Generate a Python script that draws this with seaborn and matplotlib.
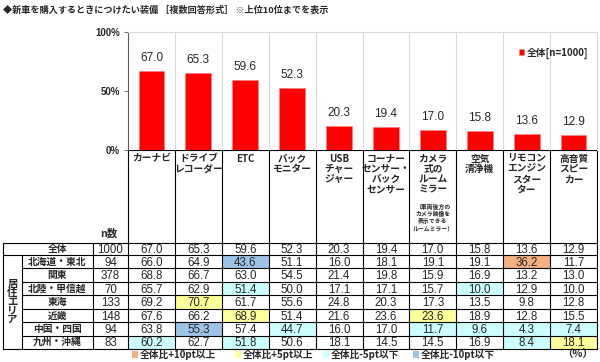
import matplotlib
matplotlib.use("Agg")
import matplotlib.pyplot as plt
import seaborn as sns
import pandas as pd
from matplotlib.patches import Rectangle

# データ
categories = ['カーナビ', 'ドライブ\nレコーダー', 'ETC', 'バック\nモニター', 'USB\nチャー\nジャー',
              'コーナー\nセンサー・\nバック\nセンサー', 'カメラ\n式の\nルーム\nミラー', '空気\n清浄機',
              'リモコン\nエンジン\nスター\nター', '高音質\nスピー\nカー']
camera_note = '（車両後方の\nカメラ映像を\n表示できる\nルームミラー）'
overall_n = 1000
overall = [67.0, 65.3, 59.6, 52.3, 20.3, 19.4, 17.0, 15.8, 13.6, 12.9]
regions = ['北海道・東北', '関東', '北陸・甲信越', '東海', '近畿', '中国・四国', '九州・沖縄']
region_n = [94, 378, 70, 133, 148, 94, 83]
hokkaido_tohoku = [66.0, 64.9, 43.6, 51.1, 16.0, 18.1, 19.1, 19.1, 36.2, 11.7]
kanto = [68.8, 66.7, 63.0, 54.5, 21.4, 19.8, 15.9, 16.9, 13.2, 13.0]
hokuriku_koshinetsu = [65.7, 62.9, 51.4, 50.0, 17.1, 17.1, 15.7, 10.0, 12.9, 10.0]
tokai = [69.2, 70.7, 61.7, 55.6, 24.8, 20.3, 17.3, 13.5, 9.8, 12.8]
kinki = [67.6, 66.2, 68.9, 51.4, 21.6, 23.6, 23.6, 18.9, 12.8, 15.5]
chugoku_shikoku = [63.8, 55.3, 57.4, 44.7, 16.0, 17.0, 11.7, 9.6, 4.3, 7.4]
kyushu_okinawa = [60.2, 62.7, 51.8, 50.6, 18.1, 14.5, 14.5, 16.9, 8.4, 18.1]
region_values = [hokkaido_tohoku, kanto, hokuriku_koshinetsu, tokai, kinki,
                 chugoku_shikoku, kyushu_okinawa]
legend_labels = ['全体比+10pt以上', '全体比+5pt以上', '全体比-5pt以下', '全体比-10pt以下']

df = pd.DataFrame({'装備': [c.replace('\n', '') for c in categories], '全体': overall})

sns.set_theme(style='white')
plt.rcParams['font.family'] = ['Noto Sans CJK JP', 'DejaVu Sans']
NUM = 'Liberation Sans'

C_P10, C_P5, C_M5, C_M10 = '#F4B183', '#FFFF99', '#CCFFFF', '#9DC3E6'

W, H = 600, 362
L, R, T, B = 128, 597, 32, 150
fig = plt.figure(figsize=(6, 3.62), dpi=100)
fig.patch.set_facecolor('white')

# オーバーレイ（表）
ov = fig.add_axes([0, 0, 1, 1])
ov.set_xlim(0, W)
ov.set_ylim(H, 0)
ov.axis('off')

# 棒グラフ
ax = fig.add_axes([L / W, 1 - B / H, (R - L) / W, (B - T) / H])
sns.barplot(data=df, x='装備', y='全体', color='#FF0000', saturation=1, width=0.55,
            ax=ax, label=f'全体[n={overall_n}]', edgecolor='#FF8080', linewidth=0.5)
ax.set_ylim(0, 100)
ax.set_xlim(-0.5, len(categories) - 0.5)
ax.set_xticks([])
ax.set_xlabel('')
ax.set_ylabel('')
ax.set_yticks([0, 50, 100])
ax.set_yticklabels(['0%', '50%', '100%'], fontsize=7, fontweight='bold', family=NUM)
ax.tick_params(axis='y', length=3, width=0.6, color='#595959', pad=3, left=True)
for i in range(1, len(categories)):
    ax.axvline(i - 0.5, color='#D9D9D9', lw=0.8, zorder=0)
ax.spines['left'].set_color('#595959')
ax.spines['left'].set_linewidth(0.8)
for s in ['top', 'right']:
    ax.spines[s].set_color('#D9D9D9')
    ax.spines[s].set_linewidth(0.8)
ax.spines['bottom'].set_visible(False)
ax.bar_label(ax.containers[0], fmt='%.1f', padding=5, fontsize=8.5, family=NUM)
ax.legend(loc='center right', bbox_to_anchor=(1.0, 0.82), frameon=False,
          handlelength=0.5, handleheight=0.5, handletextpad=0.3,
          prop={'size': 7, 'weight': 'bold'})

# 表レイアウト
colw = (R - L) / len(categories)
xs = [L + i * colw for i in range(len(categories) + 1)]
hdr_bot = 242.5
tot_bot = 255.0
row_h = (349.0 - tot_bot) / len(regions)
row_edges = [tot_bot + k * row_h for k in range(len(regions) + 1)]
lc = '#000000'
lw = 0.8
num_fs = 8.3
base_off = 0.716 * num_fs * 100 / 72 / 2  # 数字の縦中央合わせ


def hl(diff):
    d = round(diff, 1)
    if d >= 10:
        return C_P10
    if d >= 5:
        return C_P5
    if d <= -10:
        return C_M10
    if d <= -5:
        return C_M5
    return None


def num(x, y, s):
    ov.text(x, y + base_off, s, ha='center', va='baseline', fontsize=num_fs,
            family=NUM, zorder=3)


# セル色
for k, vals in enumerate(region_values):
    for j, v in enumerate(vals):
        c = hl(v - overall[j])
        if c:
            ov.add_patch(Rectangle((xs[j], row_edges[k]), colw, row_h,
                                   facecolor=c, edgecolor='none', zorder=1))

# 罫線
ov.plot([L, R], [B, B], color=lc, lw=lw, zorder=2)
ov.plot([3, R], [hdr_bot, hdr_bot], color=lc, lw=lw, zorder=2)
for y in row_edges[:-1]:
    x0 = 3 if y == tot_bot else 22
    ov.plot([x0, R], [y, y], color=lc, lw=lw, zorder=2)
ov.plot([3, R], [row_edges[-1], row_edges[-1]], color=lc, lw=lw, zorder=2)
ov.plot([3, 3], [hdr_bot, row_edges[-1]], color=lc, lw=lw, zorder=2)
ov.plot([22, 22], [tot_bot, row_edges[-1]], color=lc, lw=lw, zorder=2)
ov.plot([93, 93], [hdr_bot, row_edges[-1]], color=lc, lw=lw, zorder=2)
for x in xs:
    ov.plot([x, x], [B, row_edges[-1]], color=lc, lw=lw, zorder=2)

# 見出し
for j, lab in enumerate(categories):
    ov.text(xs[j] + colw / 2, 153.5, lab, ha='center', va='top', fontsize=7,
            fontweight='bold', linespacing=1.05, zorder=3)
ov.text(xs[6] + colw / 2, 203.5, camera_note, ha='center', va='top', fontsize=4.2,
        fontweight='bold', linespacing=1.25, zorder=3)
ov.text(109, 233, 'n数', ha='center', va='center', fontsize=7.5, fontweight='bold', zorder=3)

# 全体行
ymid = (hdr_bot + tot_bot) / 2
ov.text(57.5, ymid, '全体', ha='center', va='center', fontsize=7, fontweight='bold', zorder=3)
num(110.5, ymid, str(overall_n))
for j, v in enumerate(overall):
    num(xs[j] + colw / 2, ymid, f'{v:.1f}')

# 地域行
for k, (reg, n, vals) in enumerate(zip(regions, region_n, region_values)):
    ym = row_edges[k] + row_h / 2
    ov.text(57.5, ym, reg, ha='center', va='center', fontsize=7, fontweight='bold', zorder=3)
    num(110.5, ym, str(n))
    for j, v in enumerate(vals):
        num(xs[j] + colw / 2, ym, f'{v:.1f}')

ov.text(12.5, (row_edges[0] + row_edges[-1]) / 2, '居\n住\nエ\nリ\nア', ha='center', va='center',
        fontsize=7.5, fontweight='bold', linespacing=0.85, zorder=3)

# 凡例（色）
leg_x = [132, 235, 323, 413]
for x, c, t in zip(leg_x, [C_P10, C_P5, C_M5, C_M10], legend_labels):
    ov.add_patch(Rectangle((x, 351), 6, 7, facecolor=c, edgecolor='none', zorder=3))
    ov.text(x + 8, 355, t, ha='left', va='center', fontsize=7, fontweight='bold', zorder=3)
ov.text(593, 355, '（%）', ha='right', va='center', fontsize=7.5, fontweight='bold', zorder=3)

# タイトル
ov.text(3, 10, '◆新車を購入するときにつけたい装備 ［複数回答形式］ ※上位10位までを表示',
        ha='left', va='center', fontsize=6.6, fontweight='bold', zorder=3)

fig.savefig('out.png', dpi=100, facecolor='white')
